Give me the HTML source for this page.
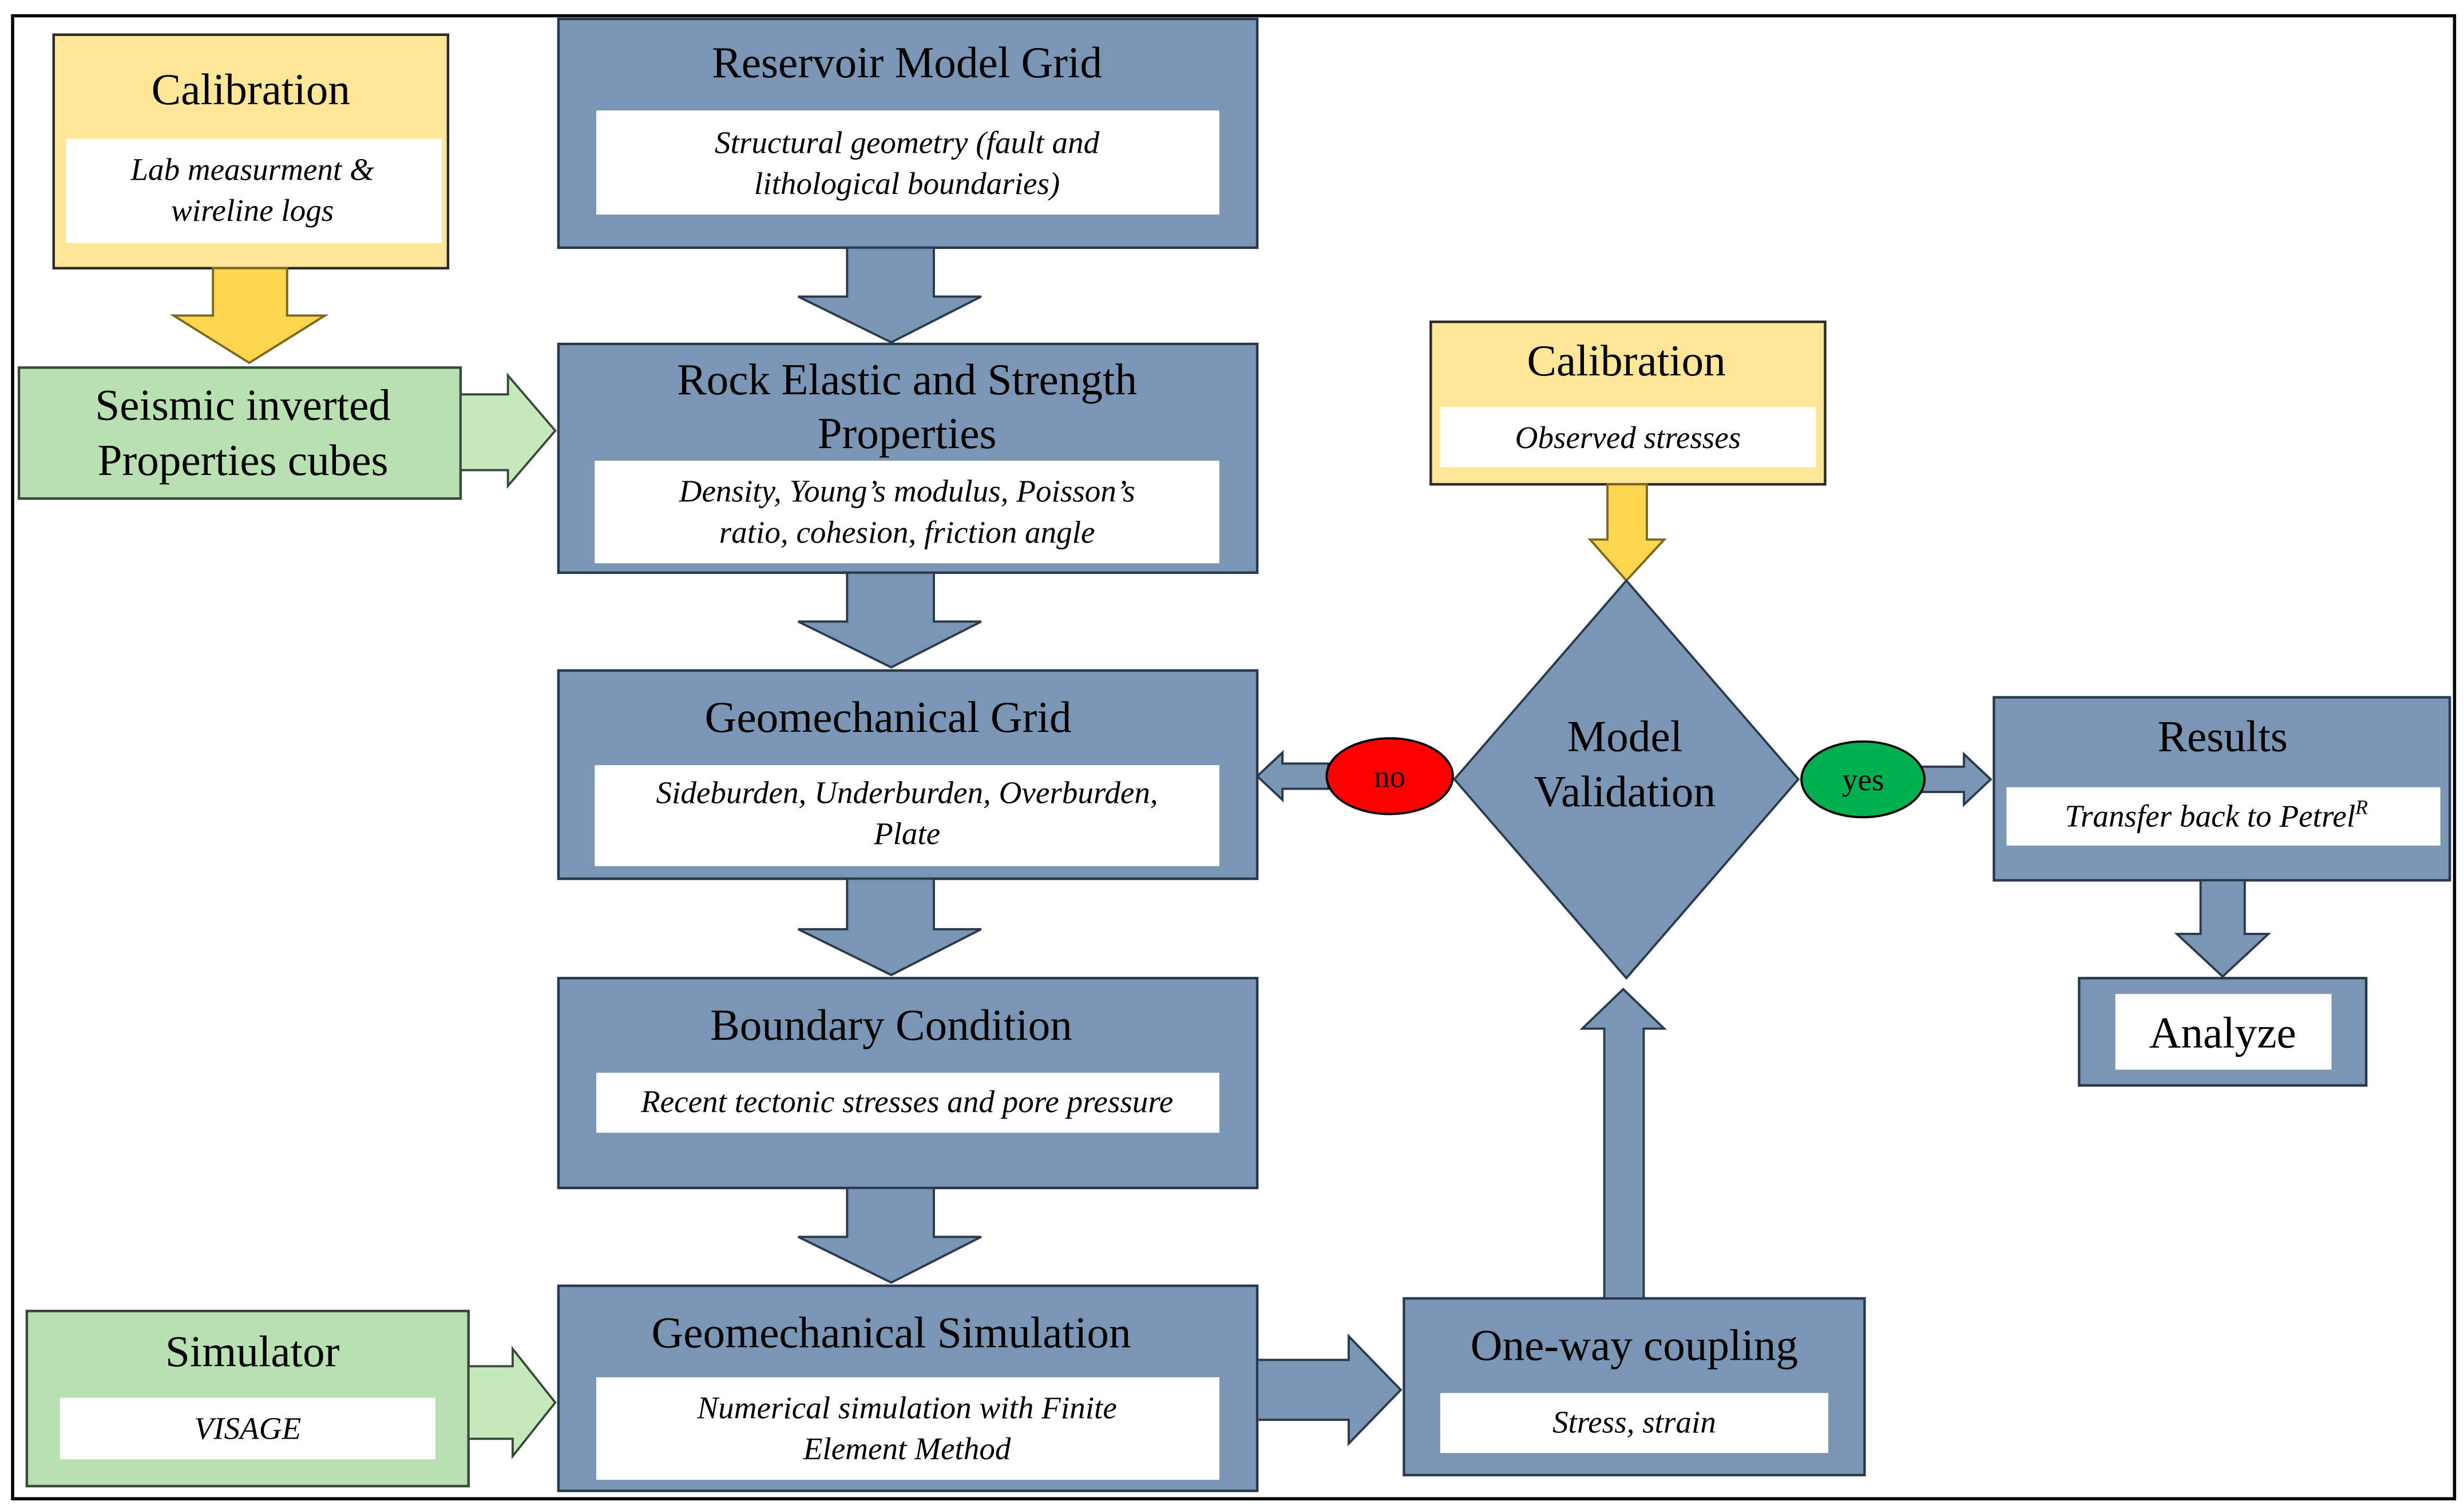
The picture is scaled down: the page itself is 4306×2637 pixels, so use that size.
<!DOCTYPE html>
<html><head><meta charset="utf-8"><style>
html,body{margin:0;padding:0;background:#fff;}
svg{display:block;}
text{font-family:"Liberation Serif",serif;fill:#000;}
.t{font-size:28px;}
.i{font-size:20px;font-style:italic;}
.bl{fill:#7b96b4;stroke:#2a3a4e;stroke-width:1.6;}
.ye{fill:#ffe699;stroke:#2a2a2a;stroke-width:1.6;}
.gr{fill:#b8e0b0;stroke:#3a4a3a;stroke-width:1.6;}
.wh{fill:#fff;stroke:none;}
.ay{fill:#ffd54f;stroke:#7a6a20;stroke-width:1.4;}
.ag{fill:#c5e8bd;stroke:#3a4a3a;stroke-width:1.4;}
.ab{fill:#7b96b4;stroke:#2a3a4e;stroke-width:1.4;}
</style></head><body>
<svg width="4306" height="2637" viewBox="0 0 1562 956.5" preserveAspectRatio="none" xmlns="http://www.w3.org/2000/svg">
<rect x="8" y="10" width="1548" height="940" fill="#fff" stroke="#000" stroke-width="2"/>

<!-- Calibration left -->
<rect class="ye" x="34" y="22" width="250" height="148"/>
<rect class="wh" x="42" y="88" width="238" height="66"/>
<text class="t" x="159" y="66" text-anchor="middle">Calibration</text>
<text class="i" x="160" y="114" text-anchor="middle">Lab measurment &amp;</text>
<text class="i" x="160" y="140" text-anchor="middle">wireline logs</text>
<polygon class="ay" points="135,170 182,170 182,200 206,200 158,230 110,200 135,200"/>

<!-- Seismic -->
<rect class="gr" x="12" y="233" width="280" height="83"/>
<text class="t" x="154" y="266" text-anchor="middle">Seismic inverted</text>
<text class="t" x="154" y="301" text-anchor="middle">Properties cubes</text>
<polygon class="ag" points="292,250 322,250 322,238 352,273 322,308 322,298 292,298"/>

<!-- Reservoir -->
<rect class="bl" x="354" y="12" width="443" height="145"/>
<rect class="wh" x="378" y="70" width="395" height="66"/>
<text class="t" x="575" y="49" text-anchor="middle">Reservoir  Model Grid</text>
<text class="i" x="575" y="97" text-anchor="middle">Structural geometry (fault and</text>
<text class="i" x="575" y="123" text-anchor="middle">lithological boundaries)</text>
<polygon class="ab" points="537,157 592,157 592,188 622,188 565,217 506,188 537,188"/>

<!-- Rock -->
<rect class="bl" x="354" y="218" width="443" height="145"/>
<rect class="wh" x="377" y="292" width="396" height="65"/>
<text class="t" x="575" y="250" text-anchor="middle">Rock Elastic and Strength</text>
<text class="t" x="575" y="284" text-anchor="middle">Properties</text>
<text class="i" x="575" y="318" text-anchor="middle">Density, Young’s modulus, Poisson’s</text>
<text class="i" x="575" y="344" text-anchor="middle">ratio, cohesion, friction angle</text>
<polygon class="ab" points="537,363 592,363 592,394 622,394 565,423 506,394 537,394"/>

<!-- Geomech grid -->
<rect class="bl" x="354" y="425" width="443" height="132"/>
<rect class="wh" x="377" y="485" width="396" height="64"/>
<text class="t" x="563" y="464" text-anchor="middle">Geomechanical  Grid</text>
<text class="i" x="575" y="509" text-anchor="middle">Sideburden, Underburden, Overburden,</text>
<text class="i" x="575" y="535" text-anchor="middle">Plate</text>
<polygon class="ab" points="537,557 592,557 592,589 622,589 565,618 506,589 537,589"/>

<!-- Boundary -->
<rect class="bl" x="354" y="620" width="443" height="133"/>
<rect class="wh" x="378" y="680" width="395" height="38"/>
<text class="t" x="565" y="659" text-anchor="middle">Boundary  Condition</text>
<text class="i" x="575" y="705" text-anchor="middle">Recent tectonic stresses and pore pressure</text>
<polygon class="ab" points="537,753 592,753 592,784 622,784 565,813 506,784 537,784"/>

<!-- Geomech sim -->
<rect class="bl" x="354" y="815" width="443" height="130"/>
<rect class="wh" x="378" y="873" width="395" height="65"/>
<text class="t" x="565" y="854" text-anchor="middle">Geomechanical  Simulation</text>
<text class="i" x="575" y="899" text-anchor="middle">Numerical simulation with Finite</text>
<text class="i" x="575" y="925" text-anchor="middle">Element Method</text>

<!-- Simulator -->
<rect class="gr" x="17" y="831" width="280" height="111"/>
<rect class="wh" x="38" y="886" width="238" height="39"/>
<text class="t" x="160" y="866" text-anchor="middle">Simulator</text>
<text class="i" x="157" y="912" text-anchor="middle">VISAGE</text>
<polygon class="ag" points="297,866 325,866 325,855 352,889 325,923 325,912 297,912"/>

<!-- sim -> coupling -->
<polygon class="ab" points="797,862 855,862 855,847 888,881 855,915 855,900 797,900"/>

<!-- One-way coupling -->
<rect class="bl" x="890" y="823" width="292" height="112"/>
<rect class="wh" x="913" y="883" width="246" height="38"/>
<text class="t" x="1036" y="862" text-anchor="middle">One-way  coupling</text>
<text class="i" x="1036" y="908" text-anchor="middle">Stress, strain</text>

<!-- up arrow -->
<polygon class="ab" points="1017,823 1042,823 1042,652 1055,652 1029,627 1003,652 1017,652"/>

<!-- Calibration right -->
<rect class="ye" x="907" y="204" width="250" height="103"/>
<rect class="wh" x="913" y="258" width="238" height="38"/>
<text class="t" x="1031" y="238" text-anchor="middle">Calibration</text>
<text class="i" x="1032" y="284" text-anchor="middle">Observed stresses</text>
<polygon class="ay" points="1019,307 1044,307 1044,342 1055,342 1031,368 1008,342 1019,342"/>

<!-- Diamond -->
<polygon class="ab" points="1031,368 1140,494 1031,620 922,494"/>
<text class="t" x="1030" y="476" text-anchor="middle">Model</text>
<text class="t" x="1030" y="511" text-anchor="middle">Validation</text>

<!-- no -->
<polygon class="ab" points="842,484 813,484 813,477 797,492 813,507 813,500 842,500"/>
<ellipse cx="881" cy="492" rx="40" ry="24" fill="#ff0000" stroke="#000" stroke-width="1.4"/>
<text x="881" y="499" text-anchor="middle" style="font-size:20px">no</text>

<!-- yes -->
<polygon class="ab" points="1218,486 1245,486 1245,478 1262,494 1245,510 1245,502 1218,502"/>
<ellipse cx="1181" cy="494" rx="39" ry="24" fill="#00b050" stroke="#000" stroke-width="1.4"/>
<text x="1181" y="501" text-anchor="middle" style="font-size:20px">yes</text>

<!-- Results -->
<rect class="bl" x="1264" y="442" width="289" height="116"/>
<rect class="wh" x="1272" y="499" width="275" height="37"/>
<text class="t" x="1409" y="476" text-anchor="middle">Results</text>
<text class="i" x="1405" y="524" text-anchor="middle">Transfer back to Petrel<tspan dy="-8" style="font-size:13px">R</tspan></text>
<polygon class="ab" points="1395,558 1423,558 1423,592 1438,592 1409,619 1380,592 1395,592"/>

<!-- Analyze -->
<rect class="bl" x="1318" y="620" width="182" height="68"/>
<rect class="wh" x="1341" y="630" width="137" height="48"/>
<text class="t" x="1409" y="664" text-anchor="middle">Analyze</text>
</svg>
</body></html>
